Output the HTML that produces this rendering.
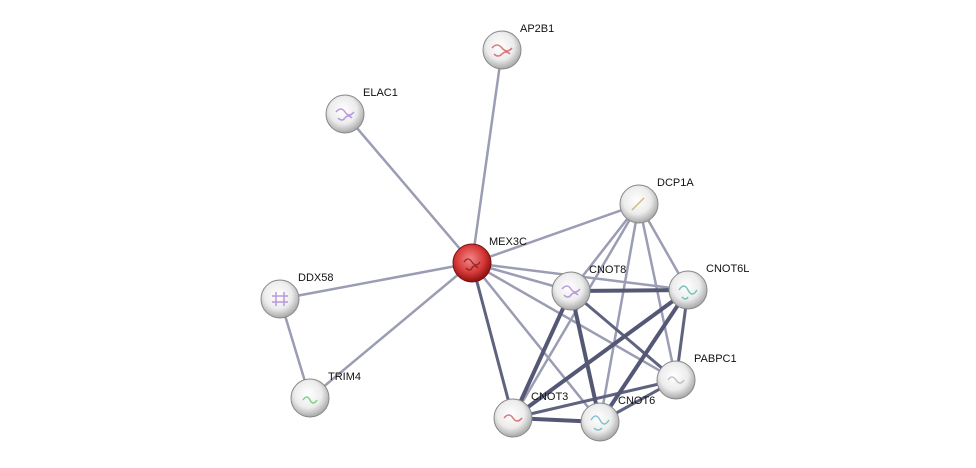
<!DOCTYPE html>
<html><head><meta charset="utf-8"><style>
html,body{margin:0;padding:0;background:#fff;}
svg{display:block;}
text{font-family:"Liberation Sans",Arial,sans-serif;font-size:11px;fill:#111;}
</style></head><body>
<svg width="976" height="468" viewBox="0 0 976 468" xmlns="http://www.w3.org/2000/svg">
<defs>
<radialGradient id="g" cx="0.45" cy="0.4" r="0.6">
<stop offset="0" stop-color="#ffffff"/><stop offset="0.6" stop-color="#ececec"/><stop offset="1" stop-color="#a8a8a8"/>
</radialGradient>
<radialGradient id="r" cx="0.45" cy="0.4" r="0.6">
<stop offset="0" stop-color="#f08a8a"/><stop offset="0.6" stop-color="#d83a3a"/><stop offset="1" stop-color="#8a1010"/>
</radialGradient>
</defs>
<g stroke-linecap="round" fill="none">
<g stroke="#9a9db3" stroke-width="2.5">
<line x1="472" y1="263" x2="502" y2="50"/>
<line x1="472" y1="263" x2="345" y2="114"/>
<line x1="472" y1="263" x2="280" y2="299"/>
<line x1="472" y1="263" x2="310" y2="398"/>
<line x1="472" y1="263" x2="639" y2="204"/>
<line x1="472" y1="263" x2="571" y2="291"/>
<line x1="472" y1="263" x2="688" y2="290"/>
<line x1="472" y1="263" x2="676" y2="380"/>
<line x1="472" y1="263" x2="600" y2="422"/>
<line x1="280" y1="299" x2="310" y2="398"/>
<line x1="639" y1="204" x2="571" y2="291"/>
<line x1="639" y1="204" x2="688" y2="290"/>
<line x1="639" y1="204" x2="676" y2="380"/>
<line x1="639" y1="204" x2="513" y2="418"/>
<line x1="639" y1="204" x2="600" y2="422"/>
<line x1="571" y1="291" x2="513" y2="418"/>
</g>
<g stroke="#5f6380" stroke-width="3">
<line x1="472" y1="263" x2="513" y2="418"/>
<line x1="571" y1="291" x2="676" y2="380"/>
<line x1="688" y1="290" x2="676" y2="380"/>
<line x1="513" y1="418" x2="676" y2="380"/>
<line x1="600" y1="422" x2="676" y2="380"/>
</g>
<g stroke="#545874" stroke-width="4">
<line x1="571" y1="291" x2="688" y2="290"/>
<line x1="571" y1="291" x2="600" y2="422"/>
<line x1="688" y1="290" x2="513" y2="418"/>
<line x1="688" y1="290" x2="600" y2="422"/>
<line x1="513" y1="418" x2="600" y2="422"/>
<line x1="571" y1="291" x2="513" y2="418"/>
</g>
</g>
<g stroke="#888" stroke-width="1">
<circle cx="502" cy="50" r="19" fill="url(#g)"/>
<circle cx="345" cy="114" r="19" fill="url(#g)"/>
<circle cx="639" cy="204" r="19" fill="url(#g)"/>
<circle cx="472" cy="263" r="19" fill="url(#r)" stroke="#7a1010"/>
<circle cx="280" cy="299" r="19" fill="url(#g)"/>
<circle cx="571" cy="291" r="19" fill="url(#g)"/>
<circle cx="688" cy="290" r="19" fill="url(#g)"/>
<circle cx="676" cy="380" r="19" fill="url(#g)"/>
<circle cx="310" cy="398" r="19" fill="url(#g)"/>
<circle cx="513" cy="418" r="19" fill="url(#g)"/>
<circle cx="600" cy="422" r="19" fill="url(#g)"/>
</g>
<g opacity="0.7" stroke-width="1.5" fill="none">
<path d="M492 48 q5 -6 10 0 t10 0 M494 54 q4 4 8 0 t8 0" stroke="#d04040"/>
<path d="M336 112 q5 -6 9 0 t9 0 M338 118 q4 4 7 0 t7 0" stroke="#a070d0"/>
<path d="M632 210 l12 -12" stroke="#c8a040"/>
<path d="M464 262 q4 -6 8 0 t8 0 M466 268 q4 4 6 0 t6 0" stroke="#801010"/>
<path d="M272 296 h16 M272 302 h16 M276 292 v14 M284 292 v14" stroke="#a070d0"/>
<path d="M562 289 q5 -6 9 0 t9 0 M564 295 q4 4 7 0 t7 0" stroke="#a070d0"/>
<path d="M679 290 q5 -8 9 0 t9 0 M682 297 q4 4 6 0" stroke="#40b0a0"/>
<path d="M668 380 q4 -6 8 0 t8 0" stroke="#aaaaaa"/>
<path d="M303 400 q4 -6 7 0 t7 0" stroke="#50c050"/>
<path d="M504 418 q5 -6 9 0 t9 0" stroke="#d04040"/>
<path d="M591 420 q5 -8 9 0 t9 0 M594 428 q4 4 8 0" stroke="#50b0c0"/>
</g>
<text x="520" y="32">AP2B1</text>
<text x="363" y="96">ELAC1</text>
<text x="657" y="186">DCP1A</text>
<text x="489" y="245">MEX3C</text>
<text x="298" y="281">DDX58</text>
<text x="589" y="273">CNOT8</text>
<text x="706" y="272">CNOT6L</text>
<text x="694" y="362">PABPC1</text>
<text x="328" y="380">TRIM4</text>
<text x="531" y="400">CNOT3</text>
<text x="618" y="404">CNOT6</text>
</svg>
</body></html>
